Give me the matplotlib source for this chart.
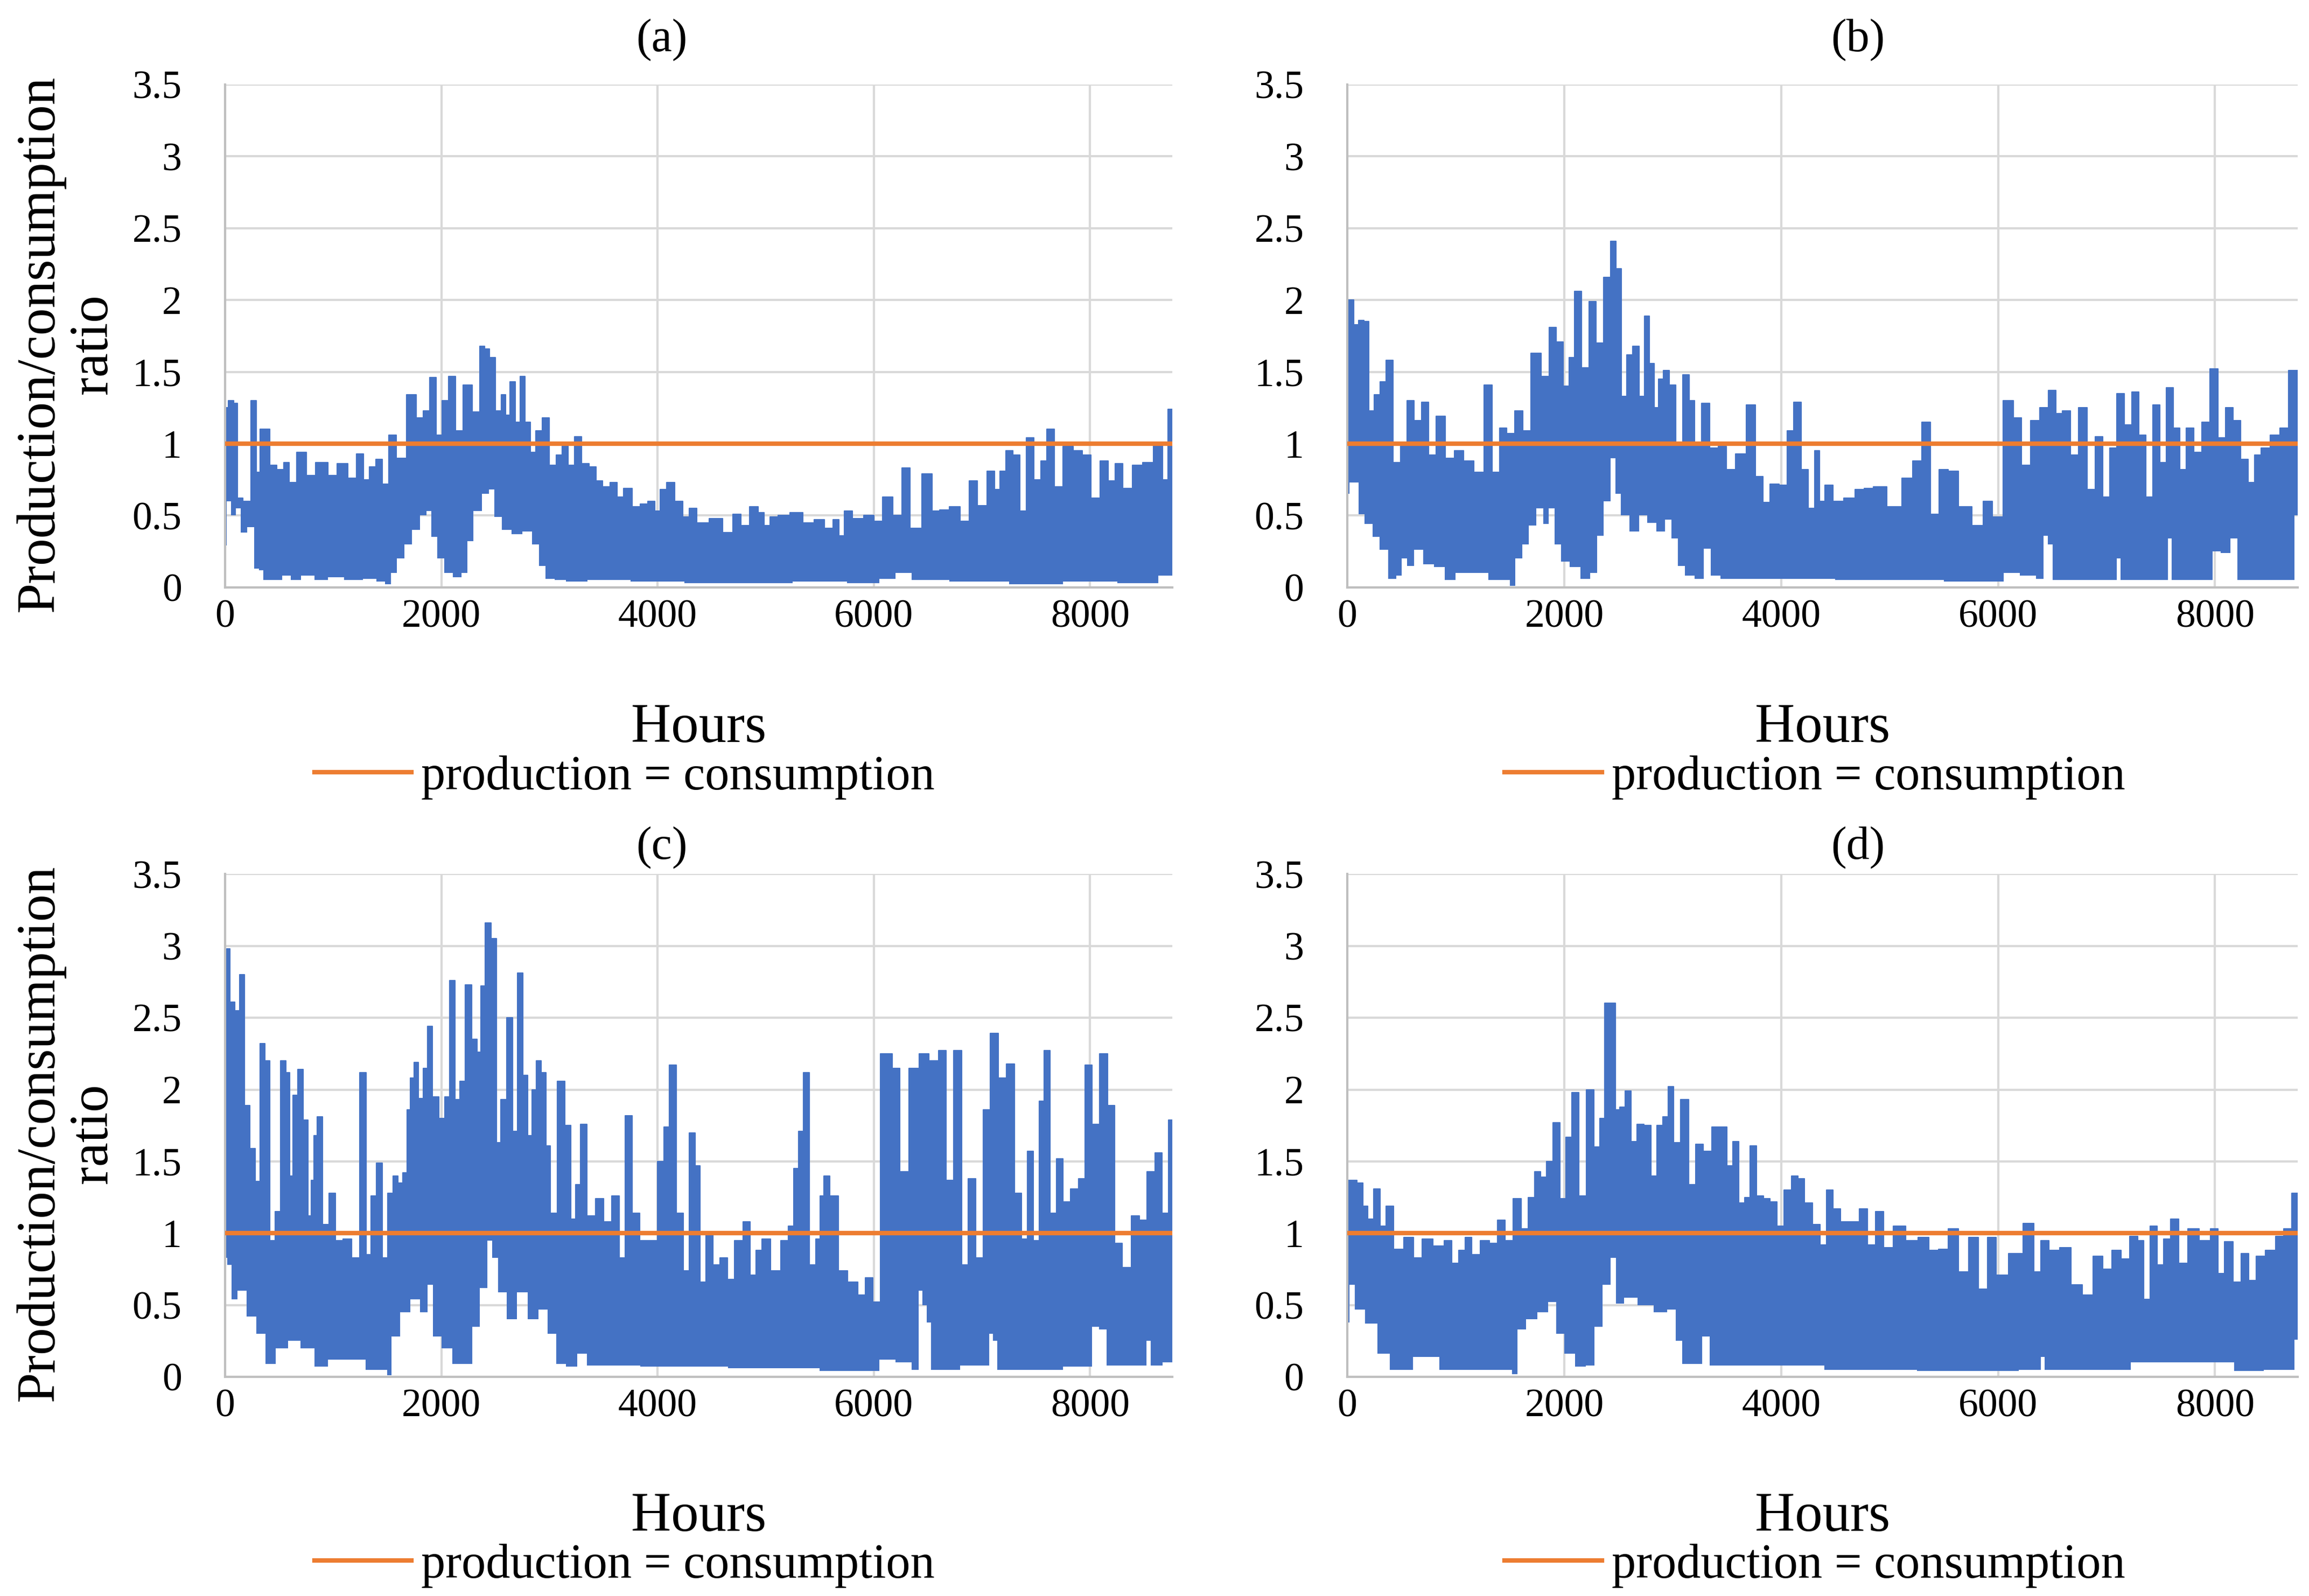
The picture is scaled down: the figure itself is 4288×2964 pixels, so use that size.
import numpy as np
import matplotlib
matplotlib.use('Agg')
import matplotlib.pyplot as plt
from matplotlib.lines import Line2D
from matplotlib.ticker import FuncFormatter

plt.rcParams['font.family'] = ['Liberation Serif', 'DejaVu Serif']

# (hour, ratio) points: upper and lower edge of the hourly band
a_top = [(0, 1.25), (60, 1.30), (100, 1.28), (130, 0.62), (200, 0.6), (275, 1.30), (300, 0.8), (350, 1.1),
         (390, 1.1), (440, 0.85), (520, 0.82), (560, 0.87), (620, 0.73), (700, 0.94), (800, 0.78), (870, 0.87),
         (920, 0.87), (980, 0.78), (1090, 0.86), (1180, 0.76), (1245, 0.93), (1310, 0.75), (1360, 0.84),
         (1430, 0.89), (1480, 0.72), (1550, 1.06), (1620, 0.9), (1740, 1.34), (1800, 1.18), (1860, 1.23),
         (1920, 1.46), (1980, 1.06), (2030, 1.30), (2100, 1.47), (2160, 1.09), (2240, 1.41), (2330, 1.22),
         (2380, 1.68), (2420, 1.66), (2470, 1.60), (2530, 1.23), (2580, 1.34), (2610, 1.2), (2660, 1.43),
         (2710, 1.15), (2750, 1.47), (2800, 1.15), (2850, 0.94), (2900, 1.09), (2970, 1.18), (3030, 0.85),
         (3090, 0.92), (3140, 0.99), (3200, 0.85), (3260, 1.05), (3330, 0.86), (3400, 0.84), (3460, 0.74),
         (3520, 0.70), (3600, 0.73), (3650, 0.63), (3720, 0.69), (3810, 0.56), (3870, 0.58), (3950, 0.6),
         (4000, 0.53), (4050, 0.68), (4120, 0.73), (4200, 0.6), (4270, 0.49), (4320, 0.55), (4400, 0.45),
         (4550, 0.48), (4650, 0.38), (4740, 0.51), (4800, 0.43), (4900, 0.56), (4960, 0.52), (5010, 0.43),
         (5070, 0.49), (5160, 0.50), (5290, 0.52), (5400, 0.45), (5500, 0.47), (5590, 0.41), (5650, 0.47),
         (5700, 0.36), (5750, 0.53), (5850, 0.48), (5960, 0.50), (6040, 0.46), (6120, 0.63), (6230, 0.5),
         (6290, 0.83), (6380, 0.41), (6510, 0.79), (6570, 0.53), (6650, 0.54), (6750, 0.56), (6850, 0.46),
         (6910, 0.74), (7000, 0.57), (7090, 0.81), (7140, 0.68), (7190, 0.81), (7250, 0.95), (7320, 0.92),
         (7380, 0.53), (7440, 1.04), (7520, 0.75), (7570, 0.88), (7630, 1.10), (7710, 0.70), (7790, 0.98),
         (7900, 0.95), (7960, 0.92), (8060, 0.62), (8130, 0.88), (8200, 0.74), (8260, 0.86), (8340, 0.69),
         (8440, 0.85), (8530, 0.87), (8640, 1.0), (8700, 0.75), (8740, 1.24), (8760, 1.24)]
a_low = [(0, 0.29), (30, 0.6), (80, 0.5), (120, 0.55), (170, 0.38), (240, 0.42), (300, 0.13), (330, 0.12),
         (380, 0.05), (500, 0.05), (560, 0.08), (650, 0.05), (750, 0.08), (900, 0.05), (1000, 0.07),
         (1200, 0.05), (1350, 0.06), (1450, 0.04), (1510, 0.02), (1560, 0.1), (1620, 0.2), (1700, 0.3),
         (1760, 0.4), (1840, 0.5), (1880, 0.53), (1930, 0.35), (1990, 0.2), (2060, 0.1), (2150, 0.07),
         (2220, 0.1), (2260, 0.32), (2330, 0.53), (2420, 0.65), (2460, 0.68), (2520, 0.49), (2600, 0.4),
         (2700, 0.37), (2800, 0.39), (2880, 0.3), (2930, 0.15), (3000, 0.06), (3100, 0.05), (3200, 0.04),
         (3500, 0.05), (4000, 0.04), (4500, 0.03), (5000, 0.03), (5500, 0.04), (6000, 0.03), (6100, 0.06),
         (6300, 0.1), (6400, 0.05), (7000, 0.04), (7500, 0.02), (8000, 0.04), (8500, 0.03), (8760, 0.08)]

b_top = [(0, 2.0), (40, 2.0), (80, 1.83), (130, 1.86), (180, 1.85), (220, 1.23), (280, 1.34), (330, 1.43),
         (380, 1.58), (460, 0.87), (520, 1.0), (580, 1.30), (650, 1.16), (720, 1.29), (780, 0.92), (860, 1.19),
         (950, 0.9), (1030, 0.95), (1110, 0.88), (1220, 0.8), (1300, 1.41), (1370, 0.8), (1440, 1.11),
         (1500, 1.07), (1590, 1.23), (1650, 1.09), (1740, 1.63), (1830, 1.47), (1890, 1.81), (1960, 1.71),
         (2020, 1.4), (2070, 1.6), (2120, 2.06), (2200, 1.53), (2260, 1.99), (2330, 1.7), (2400, 2.16),
         (2450, 2.41), (2500, 2.22), (2550, 1.33), (2600, 1.62), (2660, 1.68), (2720, 1.33), (2760, 1.89),
         (2810, 1.56), (2850, 1.25), (2890, 1.45), (2940, 1.51), (3000, 1.41), (3060, 0.99), (3130, 1.48),
         (3170, 1.3), (3230, 0.99), (3300, 1.28), (3380, 0.97), (3460, 0.98), (3530, 0.82), (3630, 0.93),
         (3730, 1.27), (3800, 0.77), (3860, 0.59), (3930, 0.72), (4030, 0.71), (4080, 1.09), (4150, 1.29),
         (4220, 0.82), (4280, 0.55), (4340, 0.95), (4370, 0.6), (4440, 0.71), (4520, 0.6), (4630, 0.62),
         (4730, 0.68), (4800, 0.69), (4900, 0.7), (5050, 0.56), (5180, 0.76), (5250, 0.88), (5340, 1.15),
         (5410, 0.51), (5500, 0.82), (5580, 0.81), (5690, 0.56), (5830, 0.43), (5900, 0.6), (5990, 0.49),
         (6100, 1.3), (6180, 1.18), (6250, 0.85), (6350, 1.16), (6420, 1.25), (6510, 1.37), (6560, 1.21),
         (6630, 1.23), (6700, 0.92), (6780, 1.25), (6860, 0.68), (6930, 1.05), (7000, 0.63), (7060, 0.97),
         (7130, 1.35), (7200, 1.13), (7270, 1.36), (7330, 1.06), (7390, 0.63), (7460, 1.27), (7520, 0.87),
         (7580, 1.39), (7650, 1.11), (7700, 0.82), (7770, 1.11), (7840, 0.94), (7920, 1.15), (7990, 1.52),
         (8060, 1.04), (8130, 1.25), (8200, 1.16), (8270, 0.89), (8340, 0.73), (8390, 0.92), (8460, 0.97),
         (8560, 1.06), (8640, 1.11), (8720, 1.51), (8760, 1.51)]
b_low = [(0, 0.65), (40, 0.73), (90, 0.73), (120, 0.51), (200, 0.44), (270, 0.35), (330, 0.26), (420, 0.06),
         (480, 0.08), (520, 0.2), (580, 0.15), (650, 0.26), (750, 0.16), (850, 0.14), (950, 0.05), (1050, 0.1),
         (1250, 0.1), (1350, 0.05), (1480, 0.05), (1520, 0.01), (1580, 0.2), (1650, 0.3), (1700, 0.43),
         (1780, 0.55), (1830, 0.44), (1880, 0.55), (1940, 0.3), (2000, 0.18), (2100, 0.14), (2200, 0.06),
         (2280, 0.1), (2330, 0.36), (2400, 0.6), (2450, 0.9), (2490, 0.65), (2550, 0.5), (2650, 0.39),
         (2730, 0.5), (2800, 0.45), (2900, 0.39), (2960, 0.47), (3020, 0.34), (3080, 0.15), (3150, 0.08),
         (3250, 0.06), (3320, 0.27), (3380, 0.08), (3500, 0.06), (4000, 0.06), (5000, 0.05), (6000, 0.04),
         (6100, 0.1), (6300, 0.08), (6400, 0.06), (6440, 0.36), (6480, 0.3), (6530, 0.05), (7080, 0.05),
         (7110, 0.2), (7150, 0.05), (7550, 0.05), (7580, 0.34), (7620, 0.05), (7960, 0.05), (8000, 0.25),
         (8100, 0.24), (8180, 0.34), (8230, 0.05), (8700, 0.05), (8760, 0.5)]

c_top = [(0, 2.9), (25, 2.98), (65, 2.61), (110, 2.55), (160, 2.8), (200, 1.89), (260, 1.59), (300, 1.36),
         (350, 2.32), (390, 2.2), (440, 0.95), (490, 1.15), (540, 2.2), (580, 2.12), (610, 1.4), (645, 1.96),
         (695, 2.14), (750, 1.79), (780, 1.12), (810, 1.37), (830, 1.68), (875, 1.81), (930, 1.06), (990, 1.28),
         (1050, 0.95), (1130, 0.96), (1210, 0.83), (1280, 2.12), (1330, 0.85), (1370, 1.26), (1430, 1.49),
         (1480, 0.83), (1530, 1.28), (1580, 1.4), (1620, 1.35), (1670, 1.42), (1700, 1.86), (1730, 2.08),
         (1770, 2.19), (1810, 1.94), (1850, 2.15), (1890, 2.44), (1940, 1.95), (2010, 1.8), (2050, 1.95),
         (2100, 2.76), (2150, 1.93), (2190, 2.06), (2250, 2.73), (2310, 2.35), (2350, 2.26), (2380, 2.72),
         (2430, 3.16), (2490, 3.05), (2530, 1.63), (2570, 1.93), (2640, 2.5), (2680, 1.71), (2730, 2.81),
         (2780, 2.1), (2820, 1.68), (2860, 2.0), (2900, 2.2), (2950, 2.12), (2990, 1.61), (3030, 1.14),
         (3110, 2.06), (3170, 1.75), (3220, 1.1), (3260, 1.34), (3310, 1.76), (3380, 1.12), (3470, 1.24),
         (3530, 1.08), (3620, 1.26), (3670, 0.83), (3730, 1.82), (3800, 1.14), (3870, 0.95), (3960, 0.95),
         (4040, 1.5), (4080, 1.74), (4140, 2.17), (4210, 1.14), (4270, 0.74), (4320, 1.7), (4371, 1.47),
         (4415, 0.66), (4480, 1.0), (4539, 0.78), (4613, 0.83), (4680, 0.68), (4745, 0.95), (4834, 1.08),
         (4880, 0.71), (4937, 0.88), (4996, 0.96), (5093, 0.74), (5187, 0.95), (5231, 1.05), (5284, 1.45),
         (5328, 1.71), (5372, 2.12), (5437, 0.78), (5490, 0.96), (5520, 1.26), (5555, 1.4), (5629, 1.26),
         (5711, 0.74), (5805, 0.66), (5894, 0.57), (5953, 0.69), (6026, 0.52), (6100, 2.25), (6140, 2.25),
         (6203, 2.15), (6277, 1.43), (6374, 2.15), (6462, 2.25), (6556, 2.2), (6639, 2.27), (6698, 1.37),
         (6777, 2.27), (6845, 0.78), (6904, 1.38), (6978, 0.83), (7042, 1.86), (7116, 2.39), (7187, 2.08),
         (7263, 2.18), (7337, 1.28), (7390, 0.96), (7446, 1.57), (7508, 0.95), (7549, 1.92), (7596, 2.27),
         (7661, 1.14), (7720, 1.52), (7779, 1.22), (7861, 1.31), (7926, 1.38), (7985, 2.17), (8052, 1.76),
         (8126, 2.25), (8200, 1.89), (8258, 0.93), (8338, 0.76), (8426, 1.12), (8485, 1.09), (8568, 1.43),
         (8632, 1.56), (8700, 1.14), (8750, 1.79), (8760, 1.79)]
c_low = [(0, 0.83), (40, 0.78), (80, 0.54), (150, 0.6), (250, 0.42), (330, 0.3), (420, 0.09), (520, 0.2),
         (640, 0.25), (750, 0.2), (900, 0.07), (1000, 0.12), (1250, 0.12), (1350, 0.05), (1480, 0.05),
         (1520, 0.01), (1560, 0.28), (1680, 0.45), (1750, 0.54), (1850, 0.45), (1890, 0.64), (1950, 0.28),
         (2050, 0.2), (2150, 0.09), (2260, 0.09), (2310, 0.35), (2400, 0.62), (2450, 0.95), (2490, 0.83),
         (2560, 0.59), (2650, 0.4), (2750, 0.59), (2850, 0.4), (2950, 0.47), (3020, 0.3), (3100, 0.09),
         (3200, 0.07), (3310, 0.16), (3380, 0.08), (4300, 0.07), (5000, 0.06), (6000, 0.04), (6100, 0.12),
         (6300, 0.1), (6400, 0.05), (6430, 0.6), (6470, 0.5), (6510, 0.38), (6550, 0.05), (7050, 0.08),
         (7080, 0.3), (7120, 0.25), (7160, 0.05), (7500, 0.05), (8000, 0.07), (8040, 0.35), (8130, 0.33),
         (8170, 0.08), (8500, 0.08), (8540, 0.25), (8580, 0.08), (8760, 0.1)]

d_top = [(0, 1.37), (60, 1.37), (120, 1.35), (170, 1.19), (210, 1.1), (280, 1.31), (330, 1.05), (380, 1.19),
         (470, 0.89), (570, 0.97), (650, 0.83), (730, 0.96), (850, 0.91), (940, 0.95), (990, 0.79), (1060, 0.88),
         (1110, 0.97), (1180, 0.85), (1270, 0.95), (1350, 0.93), (1420, 1.09), (1490, 0.95), (1570, 1.24),
         (1640, 1.03), (1700, 1.25), (1750, 1.43), (1810, 1.39), (1860, 1.5), (1930, 1.77), (1990, 1.24),
         (2040, 1.67), (2100, 1.98), (2170, 1.26), (2240, 2.0), (2310, 1.6), (2350, 1.8), (2400, 2.6),
         (2450, 2.6), (2490, 1.86), (2530, 1.88), (2590, 1.99), (2640, 1.64), (2700, 1.76), (2770, 1.75),
         (2830, 1.4), (2880, 1.75), (2940, 1.81), (2980, 2.02), (3040, 1.63), (3110, 1.93), (3180, 1.34),
         (3240, 1.62), (3320, 1.57), (3400, 1.74), (3470, 1.74), (3530, 1.47), (3580, 1.64), (3640, 1.21),
         (3690, 1.25), (3740, 1.61), (3810, 1.26), (3860, 1.24), (3930, 1.22), (3990, 1.05), (4060, 1.3),
         (4130, 1.4), (4180, 1.38), (4250, 1.21), (4330, 1.06), (4384, 0.92), (4450, 1.3), (4503, 1.17),
         (4593, 1.08), (4682, 1.08), (4756, 1.17), (4831, 0.92), (4905, 1.15), (4980, 0.9), (5084, 1.05),
         (5209, 0.95), (5313, 0.97), (5411, 0.88), (5491, 0.89), (5590, 1.03), (5679, 0.73), (5774, 0.97),
         (5863, 0.61), (5938, 0.97), (6027, 0.71), (6161, 0.86), (6295, 1.07), (6369, 0.73), (6423, 0.95),
         (6512, 0.88), (6622, 0.9), (6726, 0.64), (6830, 0.57), (6920, 0.84), (7009, 0.75), (7092, 0.88),
         (7173, 0.82), (7256, 0.98), (7321, 0.95), (7366, 0.54), (7435, 1.05), (7500, 0.78), (7554, 0.96),
         (7628, 1.1), (7702, 0.79), (7792, 1.03), (7911, 0.95), (8006, 1.03), (8051, 0.72), (8125, 0.94),
         (8208, 0.66), (8274, 0.86), (8342, 0.67), (8417, 0.84), (8512, 0.88), (8601, 0.98), (8670, 1.03),
         (8744, 1.28), (8760, 1.28)]
d_low = [(0, 0.38), (40, 0.64), (100, 0.47), (230, 0.37), (330, 0.16), (450, 0.05), (560, 0.05), (650, 0.14),
         (800, 0.14), (900, 0.05), (1500, 0.05), (1540, 0.02), (1600, 0.33), (1700, 0.4), (1800, 0.45),
         (1900, 0.52), (1950, 0.3), (2050, 0.16), (2150, 0.07), (2250, 0.08), (2310, 0.35), (2400, 0.64),
         (2450, 0.83), (2500, 0.51), (2600, 0.55), (2750, 0.5), (2900, 0.45), (3000, 0.47), (3060, 0.25),
         (3120, 0.09), (3240, 0.09), (3300, 0.28), (3380, 0.08), (4300, 0.08), (4500, 0.05), (6000, 0.04),
         (6380, 0.05), (6410, 0.14), (6450, 0.05), (8000, 0.1), (8150, 0.1), (8200, 0.04), (8700, 0.05),
         (8760, 0.26)]

balance_hours = [0, 8760]
balance_ratio = [1, 1]

panel_names = ['(a)', '(b)', '(c)', '(d)']
x_ticks = [0, 2000, 4000, 6000, 8000]
y_ticks = [0, 0.5, 1, 1.5, 2, 2.5, 3, 3.5]

BLUE = '#4472C4'
ORANGE = '#ED7D31'
GRID = '#D9D9D9'
AXIS = '#BFBFBF'


def steps(points):
    # each reading holds its value over half the gap to its neighbours
    h, v = np.array(points).T
    mids = (h[:-1] + h[1:]) / 2
    xs = np.column_stack([np.r_[h[0], mids], np.r_[mids, h[-1]]]).ravel()
    return xs, np.repeat(v, 2)


W, H = 4288, 2964
fig = plt.figure(figsize=(W / 100, H / 100), dpi=100)

# axes boxes in figure fractions
boxes = [[0.0975, 0.632, 0.4102, 0.315],
         [0.5835, 0.632, 0.4115, 0.315],
         [0.0975, 0.1373, 0.4102, 0.315],
         [0.5835, 0.1373, 0.4115, 0.315]]
title_pos = [(0.2866, 0.975), (0.8046, 0.975), (0.2866, 0.469), (0.8046, 0.469)]
hours_y = [0.5436, 0.5436, 0.0494, 0.0494]
legend_pos = [(0.2705, 0.513), (0.786, 0.513), (0.2705, 0.019), (0.786, 0.019)]

data = [(a_top, a_low), (b_top, b_low), (c_top, c_low), (d_top, d_low)]

for i, (top, low) in enumerate(data):
    ax = fig.add_axes(boxes[i])
    tx, ty = steps(top)
    lx, ly = steps(low)
    # band between the upper and lower edges
    ax.fill(np.r_[tx, lx[::-1]], np.r_[ty, ly[::-1]], color=BLUE, lw=0, zorder=2)
    ax.plot(tx, ty, color=BLUE, lw=1.5, zorder=2)
    ax.plot(balance_hours, balance_ratio, color=ORANGE, lw=6, zorder=3)

    ax.set_xlim(0, 8760)
    ax.set_ylim(0, 3.5)
    ax.set_xticks(x_ticks)
    ax.set_yticks(y_ticks)
    ax.yaxis.set_major_formatter(FuncFormatter(lambda v, p: f'{v:g}'))
    ax.grid(True, color=GRID, lw=3)
    ax.set_axisbelow(True)
    for s in ['top', 'right']:
        ax.spines[s].set_visible(False)
    for s in ['left', 'bottom']:
        ax.spines[s].set_color(AXIS)
        ax.spines[s].set_linewidth(3)
    ax.tick_params(axis='both', length=0, labelsize=53, labelcolor='black')
    ax.tick_params(axis='y', pad=58)
    ax.tick_params(axis='x', pad=16)

    x0, y0, w, h = boxes[i]
    fig.text(title_pos[i][0], title_pos[i][1], panel_names[i], ha='center', va='center', fontsize=62)
    fig.text(x0 + w / 2, hours_y[i], 'Hours', ha='center', va='center', fontsize=74)
    if i % 2 == 0:
        fig.text(0.029, y0 + h / 2 - 0.005, 'Production/consumption\nratio', rotation=90,
                 ha='center', va='center', fontsize=73, linespacing=1.1, multialignment='center')
    handle = Line2D([], [], color=ORANGE, lw=6)
    ax.legend([handle], ['production = consumption'], loc='center', bbox_to_anchor=legend_pos[i],
              bbox_transform=fig.transFigure, frameon=False, fontsize=65, handlelength=2.0,
              handletextpad=0.2, borderpad=0, borderaxespad=0)

fig.savefig('out.png', dpi=100)
